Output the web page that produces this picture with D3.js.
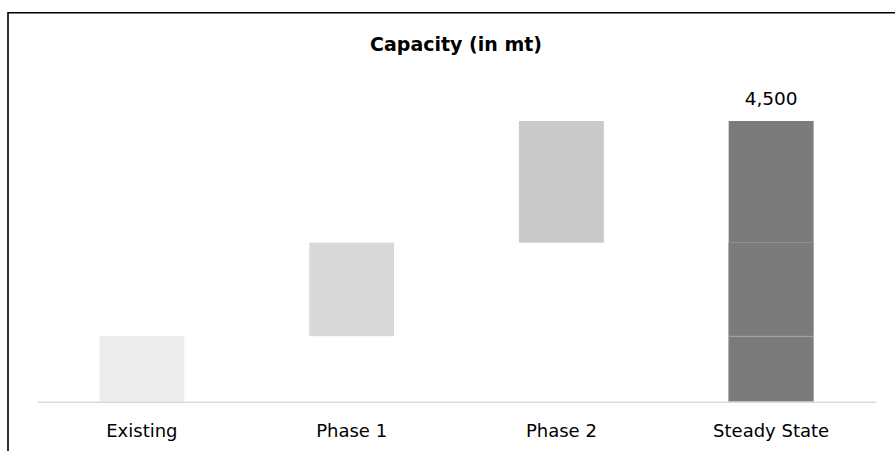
<!DOCTYPE html>
<html>
<head>
<meta charset="utf-8">
<script src="https://cdn.jsdelivr.net/npm/d3@7"></script>
<style>
  html, body { margin: 0; padding: 0; background: #fff; }
  svg { display: block; }
  text { font-family: "DejaVu Sans", sans-serif; fill: #000; }
</style>
</head>
<body>
<div id="chart"></div>
<script>
// data
const categories = ["Existing", "Phase 1", "Phase 2", "Steady State"];
const increments = [1050, 1500, 1950];
const totalLabel = "4,500";
const barColors = ["#ededed", "#d9d9d9", "#c9c9c9"];
const totalColor = "#7b7b7b";

const width = 895, height = 451;
const svg = d3.select("#chart").append("svg")
  .attr("width", width)
  .attr("height", height);

// frame (right and bottom sides fall outside the picture)
svg.append("path")
  .attr("d", "M8," + height + "V12.8H" + width)
  .attr("fill", "none")
  .attr("stroke", "#000")
  .attr("stroke-width", 1.6);

const xScale = d3.scaleBand()
  .domain(categories)
  .range([37, 876])
  .padding(0);
const barW = xScale.step() / 2.47;

const yScale = d3.scaleLinear()
  .domain([0, 5000])
  .range([401.7, 89.8]);

// floating steps
let run = 0;
const steps = increments.map((v, i) => {
  const d = {cat: categories[i], start: run, end: run + v, color: barColors[i]};
  run += v;
  return d;
});
const total = run;

const g = svg.append("g");

g.selectAll(".step")
  .data(steps)
  .enter()
  .append("rect")
  .classed("step", true)
  .attr("x", d => xScale(d.cat) + (xScale.bandwidth() - barW) / 2)
  .attr("width", barW)
  .attr("y", d => yScale(d.end))
  .attr("height", d => yScale(d.start) - yScale(d.end))
  .attr("fill", d => d.color);

// total bar, stacked from the same pieces
const lastCat = categories[categories.length - 1];
g.selectAll(".total")
  .data(steps)
  .enter()
  .append("rect")
  .classed("total", true)
  .attr("x", xScale(lastCat) + (xScale.bandwidth() - barW) / 2)
  .attr("width", barW)
  .attr("y", d => yScale(d.end))
  .attr("height", d => yScale(d.start) - yScale(d.end))
  .attr("fill", totalColor)
  .attr("stroke", (d, i) => i < steps.length - 1 ? "#a8a8a8" : "none")
  .attr("stroke-width", 0.8);

// bottom axis
const axis = g.append("g")
  .attr("transform", "translate(0," + yScale(0) + ")")
  .call(d3.axisBottom(xScale).tickSize(0).tickPadding(23));
axis.select(".domain")
  .attr("stroke", "#d9d9d9")
  .attr("stroke-width", 1.5);
axis.selectAll("text")
  .attr("font-size", "18px")
  .attr("font-family", "'DejaVu Sans', sans-serif")
  .attr("fill", "#000");

// total value label
g.append("text")
  .attr("x", xScale(lastCat) + xScale.bandwidth() / 2)
  .attr("y", yScale(total) - 15.5)
  .attr("text-anchor", "middle")
  .attr("font-size", "18.5px")
  .text(totalLabel);

// title
svg.append("text")
  .attr("x", 456)
  .attr("y", 51.3)
  .attr("text-anchor", "middle")
  .attr("font-size", "19px")
  .attr("font-weight", "bold")
  .text("Capacity (in mt)");
</script>
</body>
</html>
